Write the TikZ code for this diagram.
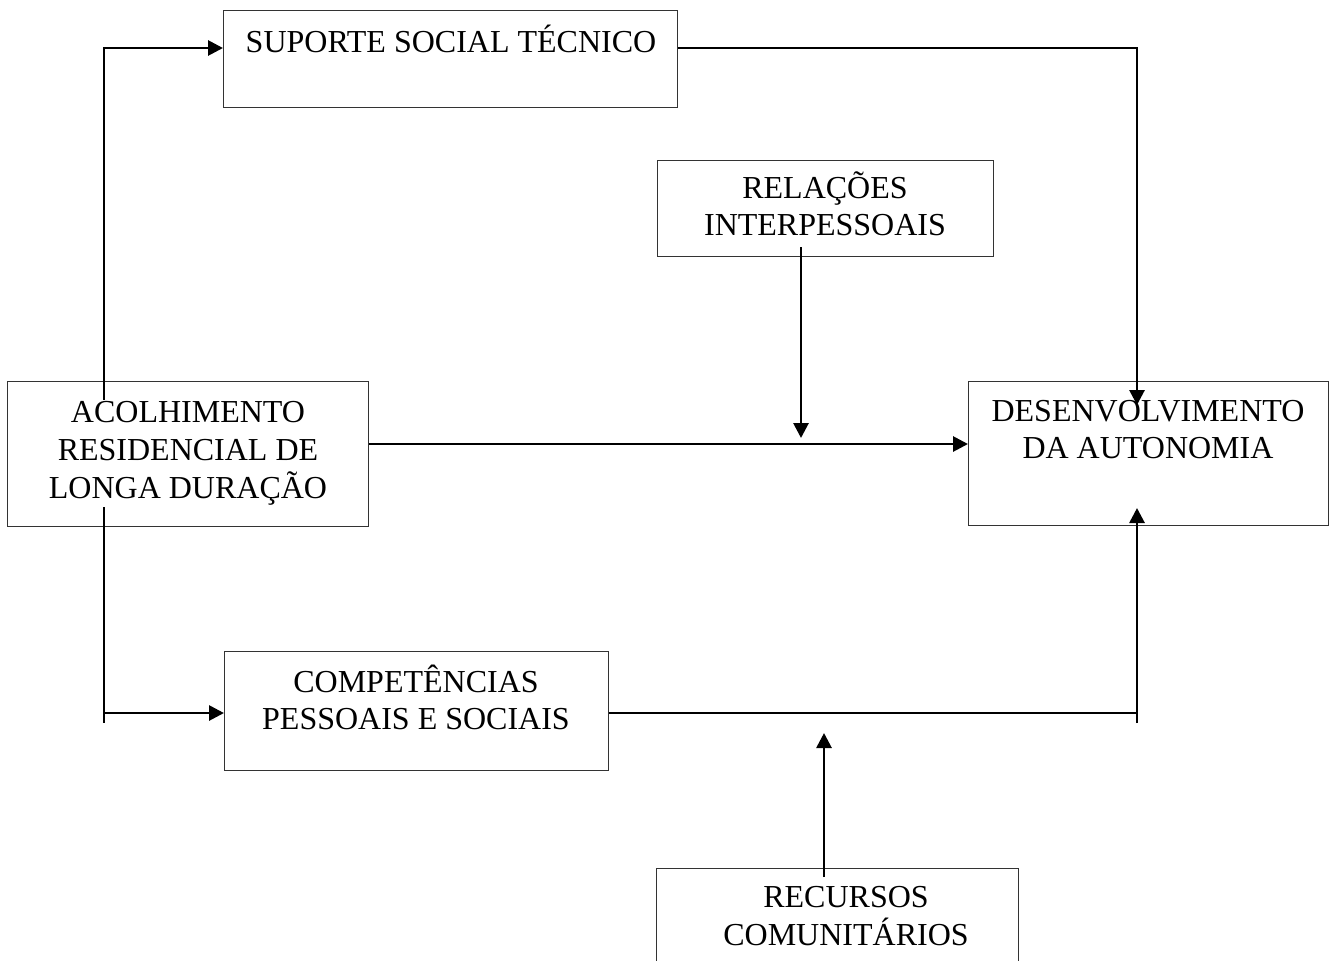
\documentclass[tikz,border=0pt]{standalone}
\usepackage{fontspec}
\setmainfont{Liberation Serif}
\usetikzlibrary{arrows.meta}
\newcommand{\fs}{\rule{0pt}{15pt}}
\begin{document}
\begin{tikzpicture}[x=0.5pt,y=-0.5pt,
  box/.style={draw=black!80, line width=0.6pt, inner sep=0pt, anchor=north west},
  txt/.style={font=\fontsize{16}{18.5}\selectfont, align=center, inner sep=0pt, anchor=north},
  conn/.style={line width=1.4pt},
  arr/.style={conn, -{Triangle[length=7.5pt,width=7.5pt]}}]
\useasboundingbox (0,0) rectangle (1331,960);
% boxes
\node[box, minimum width=227pt, minimum height=48.5pt] (suporte) at (223,10) {};
\node[box, minimum width=168pt, minimum height=48pt] (relacoes) at (657,160) {};
\node[box, minimum width=180.5pt, minimum height=72.5pt] (acolh) at (7,381) {};
\node[box, minimum width=180pt, minimum height=72pt] (desenv) at (968,381) {};
\node[box, minimum width=192pt, minimum height=59.5pt] (compet) at (224,651) {};
\node[box, minimum width=181pt, minimum height=65pt] (recursos) at (656,868) {};
% texts
\node[txt] (tsuporte) at (451,22) {\fs SUPORTE SOCIAL TÉCNICO};
\node[txt] (trelacoes) at (825,168) {\fs RELAÇÕES\\INTERPESSOAIS};
\node[txt, font=\fontsize{16}{19}\selectfont] (tacolh) at (188,392) {\fs ACOLHIMENTO\\RESIDENCIAL DE\\LONGA DURAÇÃO};
\node[txt] (tdesenv) at (1148,391) {\fs DESENVOLVIMENTO\\DA AUTONOMIA};
\node[txt] (tcompet) at (416,662) {\fs COMPETÊNCIAS\\PESSOAIS E SOCIAIS};
\node[txt, font=\fontsize{16}{19}\selectfont] (trecursos) at (846,877) {\fs RECURSOS\\COMUNITÁRIOS};
% connector ends
\coordinate (acTop) at (104,400);
\coordinate (acBot) at (104,507);
\coordinate (acLow) at (104,723);
\coordinate (dvTop) at (1137,405);
\coordinate (dvBot) at (1137,508);
\coordinate (dvLow) at (1137,723);
\coordinate (relBot) at (801,247);
\coordinate (relTip) at (801,438);
\coordinate (recTop) at (824,877);
\coordinate (recTip) at (824,733);
% connectors
\draw[arr] (acTop) |- (suporte.west |- 0,48);
\draw[arr] (suporte.east |- 0,48) -| (dvTop);
\draw[arr] (relBot) -- (relTip);
\draw[arr] (acolh.east |- 0,444) -- (desenv.west |- 0,444);
\draw[conn] (acBot) -- (acLow);
\draw[arr] (acBot |- 0,713) -- (compet.west |- 0,713);
\draw[conn] (compet.east |- 0,713) -- (dvLow |- 0,713);
\draw[arr] (dvLow) -- (dvBot);
\draw[arr] (recTop) -- (recTip);
\end{tikzpicture}
\end{document}
